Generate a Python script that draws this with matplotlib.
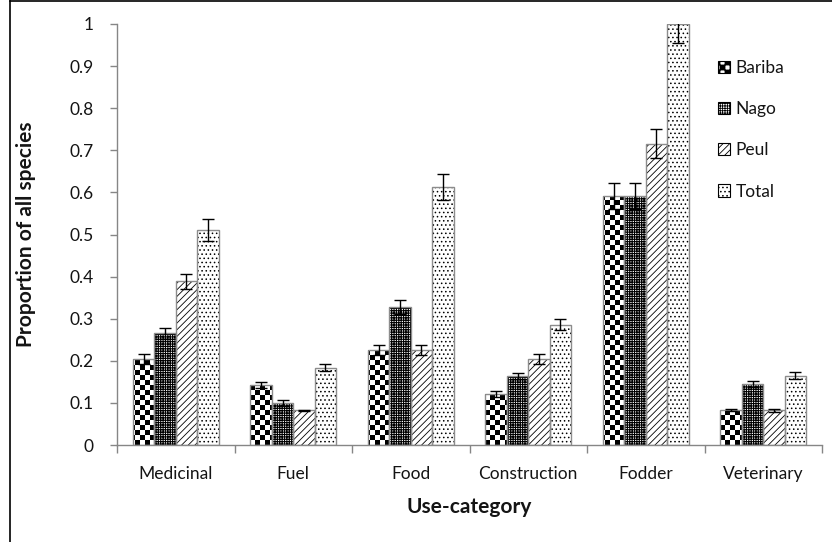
import warnings
import numpy as np
import matplotlib
matplotlib.use("Agg")
import matplotlib.pyplot as plt
from matplotlib import hatch as mhatch
from matplotlib.path import Path
from matplotlib.patches import Patch
from matplotlib.lines import Line2D
from matplotlib.ticker import FuncFormatter, FixedLocator

warnings.filterwarnings("ignore")

# ---- data ---------------------------------------------------------------
categories = ["Medicinal", "Fuel", "Food", "Construction", "Fodder", "Veterinary"]
groups = ["Bariba", "Nago", "Peul", "Total"]

bariba = [0.205, 0.143, 0.225, 0.122, 0.592, 0.083]
nago = [0.265, 0.100, 0.328, 0.164, 0.592, 0.145]
peul = [0.389, 0.082, 0.225, 0.204, 0.716, 0.082]
total = [0.510, 0.184, 0.612, 0.286, 1.000, 0.165]

bariba_err = [0.012, 0.007, 0.012, 0.007, 0.031, 0.003]
nago_err = [0.014, 0.007, 0.016, 0.007, 0.031, 0.008]
peul_err = [0.018, 0.002, 0.012, 0.011, 0.035, 0.003]
total_err = [0.026, 0.009, 0.031, 0.014, 0.045, 0.008]

y_ticks = [0, 0.1, 0.2, 0.3, 0.4, 0.5, 0.6, 0.7, 0.8, 0.9, 1.0]


# ---- a checkerboard hatch ('c' repeated sets the cell count) -------------
class CheckerHatch(mhatch.HatchPatternBase):
    def __init__(self, hatch, density):
        self.num_cells = 4 * hatch.count("c")
        n = self.num_cells
        self.num_vertices = (n * n // 2) * 5 if n else 0

    def set_vertices_and_codes(self, vertices, codes):
        n = self.num_cells
        s = 1.0 / n
        sq = np.array([[0, 0], [1, 0], [1, 1], [0, 1], [0, 0]], float) * s
        parts = []
        for i in range(n):
            for j in range(n):
                if (i + j) % 2 == 0:
                    parts.append(sq + [j * s, i * s])
        vertices[:] = np.concatenate(parts)
        one = [Path.MOVETO, Path.LINETO, Path.LINETO, Path.LINETO, Path.CLOSEPOLY]
        codes[:] = np.tile(one, len(parts))


mhatch._hatch_types.append(CheckerHatch)

FONT = "Lato"
plt.rcParams["font.family"] = [FONT, "DejaVu Sans"]
plt.rcParams["hatch.linewidth"] = 0.6

series = [bariba, nago, peul, total]
errors = [bariba_err, nago_err, peul_err, total_err]
hatches = ["ccccc", "+++++++", "/////", "...."]
hatch_lw = [0.0, 0.8, 0.6, 0.6]

fig = plt.figure(figsize=(8.32, 5.42), dpi=100)
ax = fig.add_axes([117 / 832, 1 - 445 / 542, 705 / 832, 421 / 542])

x = np.arange(len(categories))
w = 0.182
grey = "#8c8c8c"
text_col = "#141414"

for k, (vals, errs) in enumerate(zip(series, errors)):
    pos = x + (k - 1.5) * w
    bars = ax.bar(pos, vals, w, color="white", edgecolor="black",
                  linewidth=0, hatch=hatches[k], zorder=2)
    for b in bars:
        if hasattr(b, "set_hatch_linewidth"):
            b.set_hatch_linewidth(hatch_lw[k])
    ax.bar(pos, vals, w, facecolor="none", edgecolor=grey, linewidth=1.0,
           zorder=3)
    ax.errorbar(pos, vals, yerr=errs, fmt="none", ecolor="black",
                elinewidth=1.0, capsize=4.5, capthick=1.0, zorder=4)

ax.set_xlim(-0.5, len(categories) - 0.5)
ax.set_ylim(0, 1)

for side in ("top", "right"):
    ax.spines[side].set_visible(False)
for side in ("left", "bottom"):
    ax.spines[side].set_color("#868686")
    ax.spines[side].set_linewidth(1.0)

ax.set_yticks(y_ticks)
ax.yaxis.set_major_formatter(FuncFormatter(lambda v, p: f"{v:g}"))
ax.tick_params(axis="y", direction="out", length=5, width=1.0,
               color="#868686", labelsize=12.5, pad=12, labelcolor=text_col)

ax.set_xticks(x)
ax.set_xticklabels(categories)
ax.xaxis.set_minor_locator(FixedLocator(np.arange(len(categories) + 1) - 0.5))
ax.tick_params(axis="x", which="major", length=0, labelsize=12.5, pad=15,
               labelcolor=text_col)
ax.tick_params(axis="x", which="minor", direction="out", length=6, width=1.0,
               color="#868686")

ax.set_xlabel("Use-category", fontsize=15, fontweight="bold", labelpad=11,
              color=text_col)
ax.set_ylabel("Proportion of all species", fontsize=15, fontweight="bold",
              labelpad=24, color=text_col)

handles = []
for k, g in enumerate(groups):
    p = Patch(facecolor="white", edgecolor="black", linewidth=0.8,
              hatch=hatches[k])
    handles.append(p)
leg = fig.legend(handles, groups, loc="upper left",
                 bbox_to_anchor=(718 / 832, 1 - 60 / 542), frameon=False,
                 fontsize=12.5, handlelength=0.7, handleheight=0.7,
                 handletextpad=0.3, labelspacing=1.45, borderpad=0,
                 borderaxespad=0)
for t in leg.get_texts():
    t.set_color(text_col)

# outer frame of the figure
fig.add_artist(Line2D([10 / 832, 10 / 832], [0, 1 - 1 / 542],
                      transform=fig.transFigure, color="black", lw=1.2))
fig.add_artist(Line2D([10 / 832, 1], [1 - 1 / 542, 1 - 1 / 542],
                      transform=fig.transFigure, color="black", lw=1.2))

fig.savefig("out.png", dpi=100)
